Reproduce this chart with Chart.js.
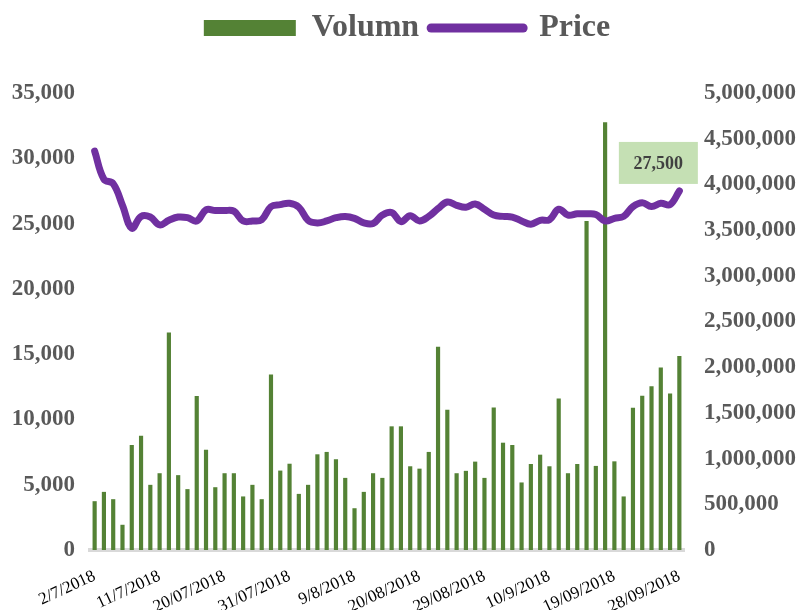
<!DOCTYPE html>
<html>
<head>
<meta charset="utf-8">
<title>Volumn & Price</title>
<script src="https://cdn.jsdelivr.net/npm/chart.js@4.4.1/dist/chart.umd.min.js"></script>
<style>
  html, body { margin: 0; padding: 0; background: #fff; }
  #wrap { width: 798px; height: 610px; position: relative; }
</style>
</head>
<body>
<div id="wrap"><canvas id="chart"></canvas></div>
<script>
const dates = [
  "2/7/2018", "3/7/2018", "4/7/2018", "5/7/2018", "6/7/2018", "9/7/2018", "10/7/2018",
  "11/7/2018", "12/7/2018", "13/07/2018", "16/07/2018", "17/07/2018", "18/07/2018", "19/07/2018",
  "20/07/2018", "23/07/2018", "24/07/2018", "25/07/2018", "26/07/2018", "27/07/2018", "30/07/2018",
  "31/07/2018", "1/8/2018", "2/8/2018", "3/8/2018", "6/8/2018", "7/8/2018", "8/8/2018",
  "9/8/2018", "10/8/2018", "13/08/2018", "14/08/2018", "15/08/2018", "16/08/2018", "17/08/2018",
  "20/08/2018", "21/08/2018", "22/08/2018", "23/08/2018", "24/08/2018", "27/08/2018", "28/08/2018",
  "29/08/2018", "30/08/2018", "31/08/2018", "4/9/2018", "5/9/2018", "6/9/2018", "7/9/2018",
  "10/9/2018", "11/9/2018", "12/9/2018", "13/09/2018", "14/09/2018", "17/09/2018", "18/09/2018",
  "19/09/2018", "20/09/2018", "21/09/2018", "24/09/2018", "25/09/2018", "26/09/2018", "27/09/2018",
  "28/09/2018"
];

// shares traded (right axis)
const volumn = [
  534000, 636000, 556000, 276000, 1149000, 1250000, 713000,
  840000, 2381000, 819000, 666000, 1686000, 1097000, 687000,
  840000, 840000, 586000, 713000, 556000, 1920000, 869000,
  944000, 614000, 713000, 1047000, 1073000, 993000, 789000,
  457000, 636000, 840000, 789000, 1353000, 1353000, 916000,
  890000, 1073000, 2224000, 1534000, 840000, 866000, 967000,
  789000, 1560000, 1174000, 1149000, 739000, 941000, 1043000,
  916000, 1657000, 840000, 941000, 3600000, 920000, 4681000,
  970000, 586000, 1556000, 1687000, 1791000, 1996000, 1711000,
  2123000
];

// closing price (left axis)
const price = [
  30550, 28400, 28050, 26400, 24650, 25550, 25500,
  24900, 25250, 25500, 25450, 25200, 26050, 26000,
  26000, 25950, 25200, 25200, 25300, 26300, 26450,
  26550, 26250, 25250, 25050, 25200, 25450, 25550,
  25400, 25050, 25000, 25650, 25850, 25150, 25600,
  25200, 25550, 26150, 26650, 26400, 26250, 26500,
  26100, 25650, 25550, 25500, 25200, 24950, 25250,
  25300, 26100, 25650, 25750, 25750, 25700, 25200,
  25400, 25550, 26300, 26600, 26300, 26550, 26450,
  27500
];

const priceTicks = { min: 0, max: 35000, step: 5000 };
const volumnTicks = { min: 0, max: 5000000, step: 500000 };

const SERIF = "'Times New Roman', 'Liberation Serif', serif";
const GREEN = "#548235";
const PURPLE = "#7030A0";
const AXIS_GREY = "#595959";

const fmt = (v) => Number(v).toLocaleString("en-US");

// push the plot area down below the big legend, nudge legend right a bit
const legendSpace = {
  id: "legendSpace",
  beforeInit(chart) {
    const fit = chart.legend.fit;
    chart.legend.fit = function () {
      fit.call(this);
      this.height = 93;
    };
  },
  afterLayout(chart) {
    chart.legend.left += 8;
    chart.legend.right += 8;
  },
};

// boxed label on the last price point
const lastLabel = {
  id: "lastLabel",
  afterDatasetsDraw(chart) {
    const meta = chart.getDatasetMeta(1);
    const pt = meta.data[meta.data.length - 1];
    if (!pt) return;
    const ctx = chart.ctx;
    const cx = pt.x - 21;
    const cy = pt.y - 28;
    const w = 79, h = 42;
    ctx.save();
    ctx.fillStyle = "#C5E0B4";
    ctx.fillRect(cx - w / 2, cy - h / 2, w, h);
    ctx.fillStyle = "#404040";
    ctx.font = "bold 18px " + SERIF;
    ctx.textAlign = "center";
    ctx.textBaseline = "middle";
    ctx.fillText(fmt(price[price.length - 1]), cx, cy + 1);
    ctx.restore();
  },
};

new Chart(document.getElementById("chart"), {
  data: {
    labels: dates,
    datasets: [
      {
        type: "bar",
        label: "Volumn",
        data: volumn,
        yAxisID: "y1",
        backgroundColor: GREEN,
        barPercentage: 0.45,
        categoryPercentage: 1,
        pointStyle: "rect",
        order: 2,
      },
      {
        type: "line",
        label: "Price",
        data: price,
        yAxisID: "y",
        borderColor: PURPLE,
        backgroundColor: PURPLE,
        borderWidth: 7,
        borderCapStyle: "round",
        borderJoinStyle: "round",
        tension: 0.4,
        pointRadius: 0,
        pointStyle: "line",
        order: 1,
      },
    ],
  },
  options: {
    responsive: true,
    maintainAspectRatio: false,
    animation: false,
    layout: { padding: 0 },
    scales: {
      x: {
        grid: { display: false },
        border: { display: true, color: "#D9D9D9", width: 4 },
        ticks: {
          autoSkip: false,
          minRotation: 25,
          maxRotation: 25,
          padding: 8,
          color: "#000",
          font: { family: SERIF, size: 17 },
          callback(value, index) {
            return index % 7 === 0 ? dates[index] : "";
          },
        },
        afterFit(scale) {
          scale.height = 60;
        },
      },
      y: {
        position: "left",
        min: priceTicks.min,
        max: priceTicks.max,
        grid: { display: false },
        border: { display: false },
        ticks: {
          stepSize: priceTicks.step,
          padding: 7,
          color: AXIS_GREY,
          font: { family: SERIF, size: 23, weight: "bold" },
          callback: (v) => fmt(v),
        },
        afterFit(scale) {
          scale.width = 90;
        },
      },
      y1: {
        position: "right",
        min: volumnTicks.min,
        max: volumnTicks.max,
        grid: { display: false },
        border: { display: false },
        ticks: {
          stepSize: volumnTicks.step,
          padding: 12,
          color: AXIS_GREY,
          font: { family: SERIF, size: 23, weight: "bold" },
          callback: (v) => fmt(v),
        },
        afterFit(scale) {
          scale.width = 114;
        },
      },
    },
    plugins: {
      tooltip: { enabled: false },
      legend: {
        position: "top",
        labels: {
          usePointStyle: true,
          pointStyleWidth: 92,
          boxHeight: 16,
          padding: 12,
          color: AXIS_GREY,
          font: { family: SERIF, size: 32, weight: "bold" },
          sort: (a, b) => a.datasetIndex - b.datasetIndex,
          generateLabels(chart) {
            const items = Chart.defaults.plugins.legend.labels.generateLabels(chart);
            items.forEach((it) => {
              if (it.datasetIndex === 1) {
                it.lineWidth = 9;
                it.lineCap = "round";
              } else {
                it.lineWidth = 0;
              }
            });
            return items;
          },
        },
      },
    },
  },
  plugins: [legendSpace, lastLabel],
});
</script>
</body>
</html>
